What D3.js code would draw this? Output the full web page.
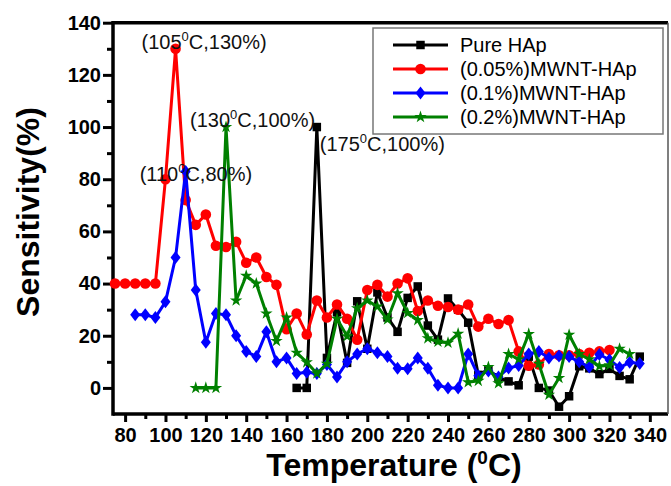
<!DOCTYPE html>
<html>
<head>
<meta charset="utf-8">
<script src="https://cdn.jsdelivr.net/npm/d3@7"></script>
<style>
  body { margin: 0; background: #fff; }
  svg { font-family: Arial, "Liberation Sans", sans-serif; }
</style>
</head>
<body>
<div id="chart"></div>
<script>
// temperatures (C), one entry every 5 degrees
const temps = [75, 80, 85, 90, 95, 100, 105, 110, 115, 120, 125, 130, 135, 140, 145, 150, 155, 160,
  165, 170, 175, 180, 185, 190, 195, 200, 205, 210, 215, 220, 225, 230, 235, 240, 245, 250, 255, 260,
  265, 270, 275, 280, 285, 290, 295, 300, 305, 310, 315, 320, 325, 330, 335];

const pureHAp = [null, null, null, null, null, null, null, null, null, null, null, null, null, null, null, null, null, null,
  0, 0, 100, 11.5, 29, 9.6, 33.2, 15, 36.6, 27, 21.5, 34.5, 38.9, 23.9, 18.5, 34.3, 30, 25, 5, 7,
  4, 2.5, 1, 12, 0, -1, -7.2, -3.2, 8.3, 7.5, 5.3, 7.3, 4.6, 3.3, 12];
const mwnt005 = [40, 40, 40, 40, 40, 80, 130, 72, 62.5, 66.5, 54.5, 54, 56, 48, 50, 42.5, 39.5, 22.5,
  28.5, 20.5, 33.5, 27, 32, 26.5, 18.5, 37.5, 39.5, 35, 40, 42, 29.5, 33.5, 31.5, 31, 30, 32, 23.5, 26.5,
  24.5, 26, 14, 8.5, 9, 13, 12.5, 12.5, 13, 13.5, 14, 14.5, null, null, null];
const mwnt01 = [null, null, 28, 28, 27, 33, 50, 83, 37.5, 17.5, 28.5, 28, 20, 14, 12, 21.5, 10, 11.5,
  5.5, 6, 5.5, 9, 4.2, 10, 13, 15, 13.5, 12, 7.5, 7.3, 11.5, 7.5, 1, 0, 0, 13, 4.7, 6.5,
  4.2, 7.6, 8.6, 13, 14, 11.5, 12.2, 12, 10, 8, 12.8, 10.8, 7.8, 9.8, 9.4];
const mwnt02 = [null, null, null, null, null, null, null, null, 0, 0, 0, 100, 33.5, 43, 40, 28.5, 18, 27,
  13.5, 9.8, 5.5, 9.3, 26.5, 19.8, 30.5, 33.5, 31.2, 26.2, 36.3, 28.7, 26, 19, 17.7, 17.3, 20.8, 2.2, 2.7, 8,
  1.8, 13, 11, 20.7, 9.3, -2.6, 3.8, 20.4, 13, 11, 8.3, 8.7, 15, 13, null];

const seriesNames = ["Pure HAp", "(0.05%)MWNT-HAp", "(0.1%)MWNT-HAp", "(0.2%)MWNT-HAp"];
const seriesValues = [pureHAp, mwnt005, mwnt01, mwnt02];

const xTicks = [80, 100, 120, 140, 160, 180, 200, 220, 240, 260, 280, 300, 320, 340];
const xMinor = [90, 110, 130, 150, 170, 190, 210, 230, 250, 270, 290, 310, 330];
const yTicks = [0, 20, 40, 60, 80, 100, 120, 140];
const yMinor = [10, 30, 50, 70, 90, 110, 130];

// peak labels: [before superscript, after superscript]
const notes = [
  { t: 105, v: 130, pre: "(105", post: "C,130%)" },
  { t: 130, v: 100, pre: "(130", post: "C,100%)" },
  { t: 110, v: 83, pre: "(110", post: "C,80%)" },
  { t: 175, v: 100, pre: "(175", post: "C,100%)" }
];

const colors = ["#000000", "#ff0000", "#0000ff", "#008000"];

const W = 671, H = 486;
const plotL = 113, plotR = 668, plotT = 22.7, plotB = 414;

const svg = d3.select("#chart")
  .append("svg")
  .attr("width", W)
  .attr("height", H);

let x = d3.scaleLinear().domain([74, 349]).range([plotL, plotR]);
let y = d3.scaleLinear().domain([-10, 140]).range([plotB, plotT]);

// axes
let yAxis = svg.append("g")
  .attr("transform", `translate(${plotL},0)`)
  .call(d3.axisLeft(y).tickValues(yTicks).tickSize(10).tickPadding(2));
let yAxisMinor = svg.append("g")
  .attr("transform", `translate(${plotL},0)`)
  .call(d3.axisLeft(y).tickValues(yMinor).tickSize(6).tickFormat(""));
let xAxis = svg.append("g")
  .attr("transform", `translate(0,${plotB})`)
  .call(d3.axisBottom(x).tickValues(xTicks).tickSize(8).tickPadding(6));
let xAxisMinor = svg.append("g")
  .attr("transform", `translate(0,${plotB})`)
  .call(d3.axisBottom(x).tickValues(xMinor).tickSize(5).tickFormat(""));

[yAxis, yAxisMinor, xAxis, xAxisMinor].forEach(g => {
  g.select(".domain").remove();
  g.selectAll(".tick line").attr("stroke", "#000").attr("stroke-width", 3);
  g.selectAll(".tick text")
    .attr("fill", "#000")
    .style("font-size", "20px")
    .style("font-weight", "bold")
    .style("font-family", "Arial, 'Liberation Sans', sans-serif");
});

// frame
svg.append("line").attr("x1", plotL).attr("x2", plotL).attr("y1", plotT - 1.8).attr("y2", plotB + 1.8)
  .attr("stroke", "#000").attr("stroke-width", 3.5);
svg.append("line").attr("x1", plotL).attr("x2", plotR).attr("y1", plotT).attr("y2", plotT)
  .attr("stroke", "#000").attr("stroke-width", 3.5);
svg.append("line").attr("x1", plotL).attr("x2", plotR).attr("y1", plotB).attr("y2", plotB)
  .attr("stroke", "#000").attr("stroke-width", 3.5);
svg.append("line").attr("x1", plotR).attr("x2", plotR).attr("y1", plotT).attr("y2", plotB)
  .attr("stroke", "#555").attr("stroke-width", 1.5);

// markers
let star = d3.symbol().type(d3.symbolStar).size(48)();
let square = d3.symbol().type(d3.symbolSquare).size(72)();
let diamond = "M0,-6.5L5,0L0,6.5L-5,0Z";
function drawMarker(g, i, cx, cy) {
  if (i === 1) {
    g.append("circle").attr("cx", cx).attr("cy", cy).attr("r", 5.3).attr("fill", colors[i]);
  } else {
    let d = i === 0 ? square : (i === 2 ? diamond : star);
    g.append("path").attr("d", d)
      .attr("transform", `translate(${cx},${cy})`)
      .attr("fill", colors[i]);
  }
}

let line = d3.line()
  .defined(d => d.v !== null)
  .x(d => x(d.t))
  .y(d => y(d.v));

//draw the series
for (let i = 0; i < seriesValues.length; i++) {
  let pts = temps.map((t, j) => ({ t: t, v: seriesValues[i][j] }));
  let g = svg.append("g");
  g.append("path")
    .datum(pts)
    .attr("d", line)
    .attr("fill", "none")
    .attr("stroke", colors[i])
    .attr("stroke-width", 3)
    .attr("stroke-linejoin", "round");
  pts.filter(d => d.v !== null).forEach(d => drawMarker(g, i, x(d.t), y(d.v)));
}

// peak labels
let noteOffsets = [[-34, 0], [-36, 0], [-46, 10], [3, 24]];
notes.forEach((n, k) => {
  let txt = svg.append("text")
    .attr("x", x(n.t) + noteOffsets[k][0])
    .attr("y", y(n.v) + noteOffsets[k][1])
    .style("font-size", "20px")
    .attr("fill", "#111");
  txt.append("tspan").text(n.pre);
  txt.append("tspan").attr("dy", -8).style("font-size", "13px").text("0");
  txt.append("tspan").attr("dy", 8).text(n.post);
});

// legend
let lg = svg.append("g");
lg.append("rect")
  .attr("x", 373).attr("y", 28)
  .attr("width", 290).attr("height", 106)
  .attr("fill", "#fff")
  .attr("stroke", "#777")
  .attr("stroke-width", 1.5);
seriesNames.forEach((name, i) => {
  let cy = 45 + i * 24;
  lg.append("line")
    .attr("x1", 393).attr("x2", 448)
    .attr("y1", cy).attr("y2", cy)
    .attr("stroke", colors[i]).attr("stroke-width", 3);
  drawMarker(lg, i, 420.5, cy);
  lg.append("text")
    .attr("x", 460).attr("y", cy + 7)
    .style("font-size", "20px")
    .attr("fill", "#000")
    .text(name);
});

// axis titles
svg.append("text")
  .attr("transform", "translate(39,212) rotate(-90)")
  .attr("text-anchor", "middle")
  .style("font-size", "32px")
  .style("font-weight", "bold")
  .text("Sensitivity(%)");

let xt = svg.append("text")
  .attr("x", 394).attr("y", 476)
  .attr("text-anchor", "middle")
  .style("font-size", "32px")
  .style("font-weight", "bold");
xt.append("tspan").text("Temperature (");
xt.append("tspan").attr("dy", -12).style("font-size", "19px").text("0");
xt.append("tspan").attr("dy", 12).text("C)");
</script>
</body>
</html>
